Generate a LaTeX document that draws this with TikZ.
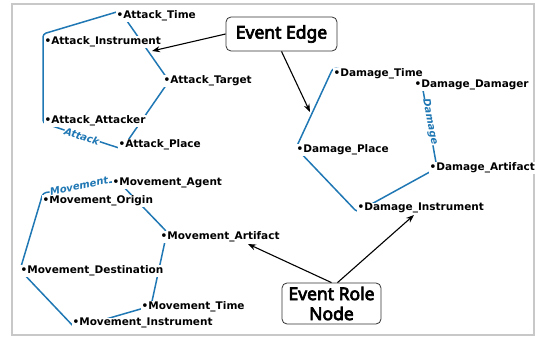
\documentclass[tikz,border=0pt]{standalone}
\usepackage{fontspec}
\setmainfont{DejaVu Sans}
\newfontfamily\labfont{DejaVu Sans}
\newfontfamily\boxfont[FakeBold=4]{Noto Sans}
\usetikzlibrary{arrows.meta}
\definecolor{tabblue}{HTML}{1F77B4}
\definecolor{framegray}{HTML}{C8C8C8}
\begin{document}
\begin{tikzpicture}[x=1pt,y=-1pt,
 hull/.style={draw=tabblue, line width=1.5pt, rounded corners=3pt},
 role/.style={font=\labfont\bfseries\fontsize{10.5}{12}\selectfont, inner sep=0.4pt, fill=white, anchor=base west},
 grp/.style={font=\labfont\bfseries\itshape\fontsize{10}{12}\selectfont, text=tabblue, fill=white, inner sep=0.4pt},
 callout/.style={draw=black!80, rounded corners=5pt, line width=0.8pt, fill=white, font=\boxfont\fontsize{17.5}{20}\selectfont, align=center, inner sep=0pt},
 arr/.style={-{Stealth[length=8pt,width=6pt]}, line width=1.1pt}]
\useasboundingbox (0,0) rectangle (542,337);
\draw[framegray, line width=1.2pt] (12,4) rectangle (534,335);
% hulls
\draw[hull] (120,11) -- (43,34) -- (43,123) -- (122,149) -- (169,81) -- cycle;
\draw[hull] (333,68) -- (421,79) -- (437,168) -- (357,212) -- (296,148) -- cycle;
\draw[hull] (43,193) -- (118,181) -- (167,232) -- (151,306) -- (75,328) -- (20,270) -- cycle;
% attack roles
\node[role] (atime) at (116,18.7) {•Attack\_Time};
\node[role] (ainst) at (44,44.7) {•Attack\_Instrument};
\node[role] (atarg) at (163,83.7) {•Attack\_Target};
\node[role] (aatt) at (44,123.7) {•Attack\_Attacker};
\node[role] (aplace) at (118,147.7) {•Attack\_Place};
% damage roles
\node[role] (dtime) at (333,76.7) {•Damage\_Time};
\node[role] (ddam) at (414,87.7) {•Damage\_Damager};
\node[role] (dplace) at (296,152.7) {•Damage\_Place};
\node[role] (dart) at (429,170.7) {•Damage\_Artifact};
\node[role] (dinst) at (357,210.7) {•Damage\_Instrument};
% movement roles
\node[role] (magent) at (112,185.7) {•Movement\_Agent};
\node[role] (morig) at (42,203.7) {•Movement\_Origin};
\node[role] (mart) at (160,239.7) {•Movement\_Artifact};
\node[role] (mdest) at (20,273.7) {•Movement\_Destination};
\node[role] (mtime) at (141,309.7) {•Movement\_Time};
\node[role] (minst) at (72,325.7) {•Movement\_Instrument};
% group labels
\node[grp, rotate=-18] (ga) at (82,136.5) {Attack};
\node[grp, rotate=-79] (gd) at (430,122) {Damage};
\node[grp, rotate=12] (gm) at (79,186) {Movement};
% callouts
\node[callout, minimum width=111pt, minimum height=34pt] (ee) at (281.5,34) {Event Edge};
\node[callout, minimum width=99pt, minimum height=41pt] (ern) at (331.5,303.5) {Event Role\\Node};
% arrows
\coordinate (tipA) at (152,51);
\coordinate (tipB) at (310,112);
\coordinate (tipC) at (248,244);
\coordinate (tipD) at (414,215);
\draw[arr] (ee.west) -- (tipA);
\draw[arr] (ee.south) -- (tipB);
\draw[arr] (ern.north) -- (tipC);
\draw[arr] ([xshift=6pt]ern.north) -- (tipD);
\end{tikzpicture}
\end{document}
